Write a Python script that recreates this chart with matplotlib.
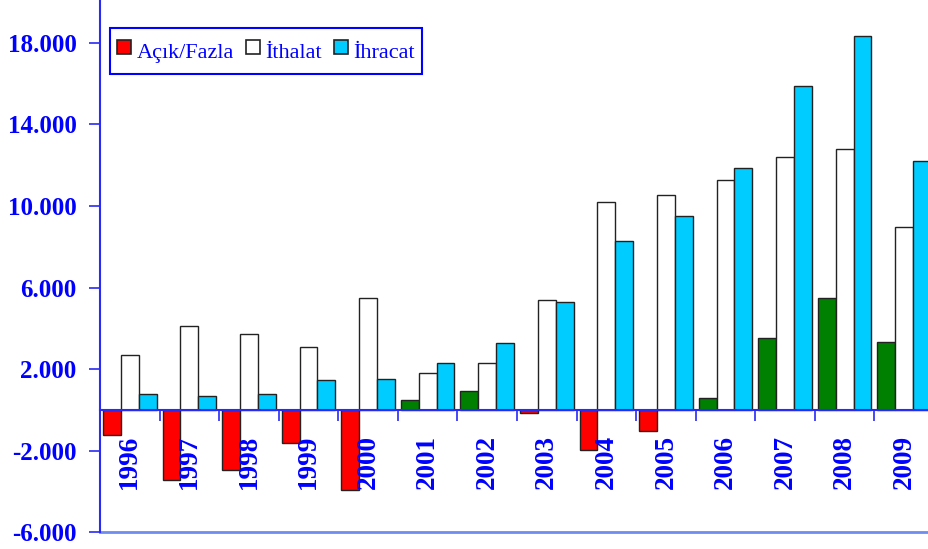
import matplotlib
matplotlib.use('Agg')
import matplotlib.pyplot as plt
import numpy as np
from matplotlib.lines import Line2D
from matplotlib.ticker import FuncFormatter

years = ['1996', '1997', '1998', '1999', '2000', '2001', '2002',
         '2003', '2004', '2005', '2006', '2007', '2008', '2009']
acik_fazla = [-1225, -3431, -2956, -1618, -3922, 475, 946,
              -147, -1961, -1029, 603, 3529, 5490, 3319]
ithalat = [2681, 4118, 3725, 3103, 5475, 1814, 2304,
           5407, 10196, 10539, 11275, 12387, 12779, 8985]
ihracat = [799, 672, 799, 1485, 1534, 2289, 3299,
           5279, 8299, 9525, 11877, 15882, 18319, 12221]
series_names = ['Açık/Fazla', 'İthalat', 'İhracat']

BLUE = '#0000FF'
LINE_BLUE = '#2A2AF5'
EDGE = '#222222'
RED = '#FF0000'
GREEN = '#008000'
CYAN = '#00CCFF'

fig = plt.figure(figsize=(9.29, 5.49), dpi=100)
ax = fig.add_axes([100 / 929, 0.0302, 834 / 929, 0.9698])

x = np.arange(len(years))
w = 0.3
fark_colors = [GREEN if v > 0 else RED for v in acik_fazla]
ax.bar(x - w, acik_fazla, w, color=fark_colors, edgecolor=EDGE, linewidth=1)
ax.bar(x, ithalat, w, color='white', edgecolor=EDGE, linewidth=1)
ax.bar(x + w, ihracat, w, color=CYAN, edgecolor=EDGE, linewidth=1)

ax.set_xlim(-0.5, len(years) - 0.5)
ax.set_ylim(-6000, 20100)
ax.set_axisbelow(False)

for side in ['top', 'right']:
    ax.spines[side].set_visible(False)
ax.spines['bottom'].set_position(('data', 0))
ax.spines['bottom'].set_color(LINE_BLUE)
ax.spines['bottom'].set_linewidth(1.5)
ax.spines['left'].set_color(LINE_BLUE)
ax.spines['left'].set_linewidth(1.5)
ax.axhline(-6000, color='#6F8CF0', linewidth=2, clip_on=False)

# category boundary ticks on the zero line, year labels underneath
ax.set_xticks(np.arange(0.5, len(years) - 0.5))
ax.tick_params(axis='x', which='major', direction='out', length=8, width=1.2,
               color=LINE_BLUE, labelbottom=False)
ax.set_xticks(x, minor=True)
ax.set_xticklabels(years, minor=True, rotation=90, color=BLUE,
                   fontfamily='Liberation Serif', fontweight='bold', fontsize=19.5)
ax.tick_params(axis='x', which='minor', length=0, pad=18)

ax.set_yticks(np.arange(-6000, 18001, 4000))
ax.yaxis.set_major_formatter(FuncFormatter(lambda v, p: f'{v:,.0f}'.replace(',', '.')))
ax.tick_params(axis='y', direction='out', length=8, width=1.2, color=LINE_BLUE,
               labelcolor=BLUE, pad=9)
for lbl in ax.get_yticklabels():
    lbl.set_fontfamily('Liberation Serif')
    lbl.set_fontweight('bold')
    lbl.set_fontsize(18)

handles = [Line2D([], [], linestyle='', marker='s', markersize=9.5,
                  markerfacecolor=c, markeredgecolor=EDGE, markeredgewidth=1.2)
           for c in [RED, 'white', CYAN]]
leg = ax.legend(handles, series_names, loc='upper left',
                bbox_to_anchor=(110 / 929, 1 - 28 / 549), bbox_transform=fig.transFigure,
                ncol=3, fancybox=False, framealpha=1, edgecolor=BLUE,
                handlelength=0.6, handleheight=1.7, handletextpad=0.25,
                columnspacing=0.55, borderpad=0.35, borderaxespad=0,
                prop={'family': 'Liberation Serif', 'size': 16}, labelcolor=BLUE)
leg.get_frame().set_linewidth(1.5)

fig.savefig('out.png', dpi=100)
